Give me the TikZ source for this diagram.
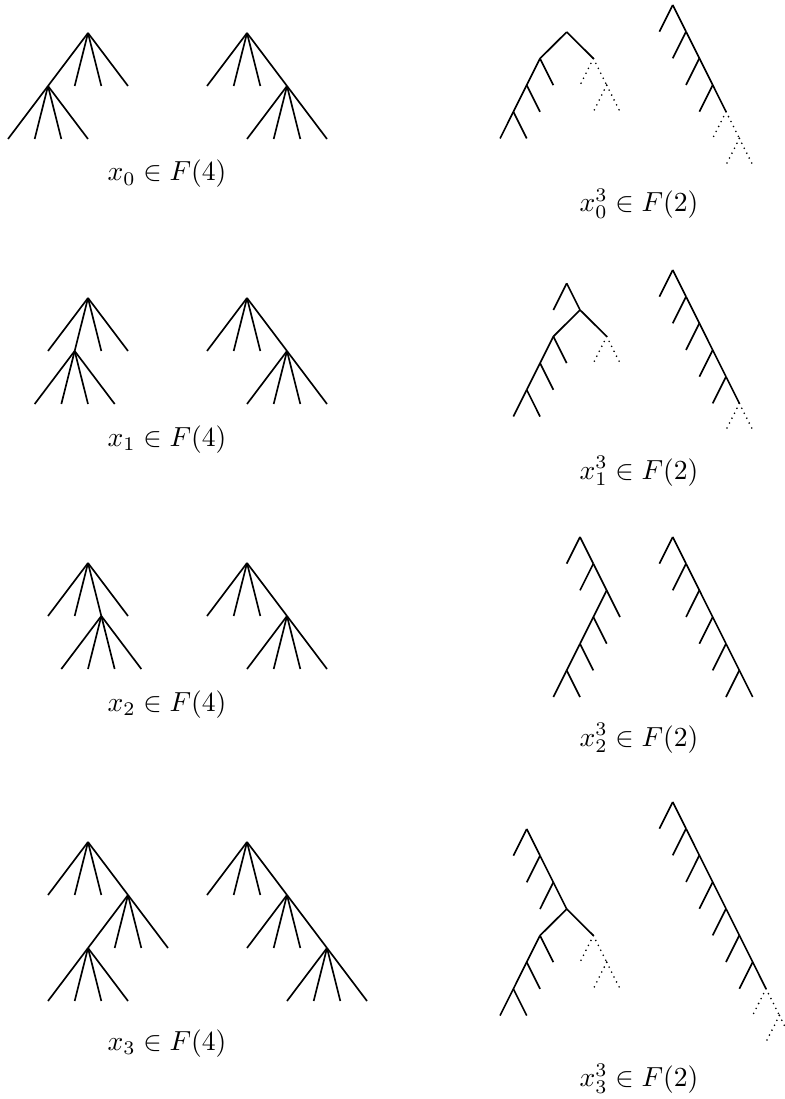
\documentclass[tikz,border=0pt]{standalone}
\newcommand\fourkids[1]{\foreach \dx [count=\i] in {-40,-13.33,13.33,40}{\draw[br] (#1) -- ++(\dx,53) coordinate (#1-\i);}}
\newcommand\mkcaret[2][br]{\draw[#1] (#2) -- ++(-13.33,26.67) coordinate (#2L); \draw[#1] (#2) -- ++(13.33,26.67) coordinate (#2R);}
\newcommand\mkwide[2][br]{\draw[#1] (#2) -- ++(-26.67,26.5) coordinate (#2L); \draw[#1] (#2) -- ++(26.67,26.5) coordinate (#2R);}
\begin{document}
\begin{tikzpicture}[x=0.3625pt,y=-0.3625pt,
  br/.style={line width=0.6pt},
  dotbr/.style={line width=0.65pt,line cap=round,dash pattern=on 0pt off 2pt},
  lab/.style={anchor=base,inner sep=0pt}]
\useasboundingbox (0,0) rectangle (785,1099);
\clip (0,0) rectangle (785,1099);
% ---------- left column: F(4) ----------
\coordinate (p1) at (88,33);  \fourkids{p1} \fourkids{p1-1}
\coordinate (q1) at (247,33); \fourkids{q1} \fourkids{q1-4}
\coordinate (p2) at (88,298);  \fourkids{p2} \fourkids{p2-2}
\coordinate (q2) at (247,298); \fourkids{q2} \fourkids{q2-4}
\coordinate (p3) at (88,563);  \fourkids{p3} \fourkids{p3-3}
\coordinate (q3) at (247,563); \fourkids{q3} \fourkids{q3-4}
\coordinate (p4) at (88,842);  \fourkids{p4} \fourkids{p4-4} \fourkids{p4-4-1}
\coordinate (q4) at (247,842); \fourkids{q4} \fourkids{q4-4} \fourkids{q4-4-4}
\node[lab] (l0) at (167,181) {$x_0\in F(4)$};
\node[lab] (l1) at (167,446.5) {$x_1\in F(4)$};
\node[lab] (l2) at (167,711.5) {$x_2\in F(4)$};
\node[lab] (l3) at (167,1050) {$x_3\in F(4)$};
% ---------- right column: F(2) ----------
% row 1
\coordinate (c1) at (566.7,32);
\mkwide{c1} \mkcaret{c1L} \mkcaret{c1LL} \mkcaret{c1LLL}
\mkcaret[dotbr]{c1R} \mkcaret[dotbr]{c1RR}
\coordinate (d1) at (672.7,5);
\mkcaret{d1} \mkcaret{d1R} \mkcaret{d1RR} \mkcaret{d1RRR}
\mkcaret[dotbr]{d1RRRR} \mkcaret[dotbr]{d1RRRRR}
% row 2
\coordinate (c2) at (566.7,283.3);
\mkcaret{c2} \mkwide{c2R} \mkcaret{c2RL} \mkcaret{c2RLL} \mkcaret{c2RLLL}
\mkcaret[dotbr]{c2RR}
\coordinate (d2) at (672.7,270);
\mkcaret{d2} \mkcaret{d2R} \mkcaret{d2RR} \mkcaret{d2RRR} \mkcaret{d2RRRR}
\mkcaret[dotbr]{d2RRRRR}
% row 3
\coordinate (c3) at (580,537);
\mkcaret{c3} \mkcaret{c3R} \mkcaret{c3RR} \mkcaret{c3RRL} \mkcaret{c3RRLL} \mkcaret{c3RRLLL}
\coordinate (d3) at (672.7,537);
\mkcaret{d3} \mkcaret{d3R} \mkcaret{d3RR} \mkcaret{d3RRR} \mkcaret{d3RRRR} \mkcaret{d3RRRRR}
% row 4
\coordinate (c4) at (526.7,829);
\mkcaret{c4} \mkcaret{c4R} \mkcaret{c4RR} \mkwide{c4RRR}
\mkcaret{c4RRRL} \mkcaret{c4RRRLL} \mkcaret{c4RRRLLL}
\mkcaret[dotbr]{c4RRRR} \mkcaret[dotbr]{c4RRRRR}
\coordinate (d4) at (672.7,802);
\mkcaret{d4} \mkcaret{d4R} \mkcaret{d4RR} \mkcaret{d4RRR} \mkcaret{d4RRRR} \mkcaret{d4RRRRR} \mkcaret{d4RRRRRR}
\mkcaret[dotbr]{d4RRRRRRR} \mkcaret[dotbr]{d4RRRRRRRR}
\node[lab] (m0) at (639,211.7) {$x_0^3\in F(2)$};
\node[lab] (m1) at (639,479) {$x_1^3\in F(2)$};
\node[lab] (m2) at (639,746) {$x_2^3\in F(2)$};
\node[lab] (m3) at (639,1086.5) {$x_3^3\in F(2)$};
\end{tikzpicture}
\end{document}
